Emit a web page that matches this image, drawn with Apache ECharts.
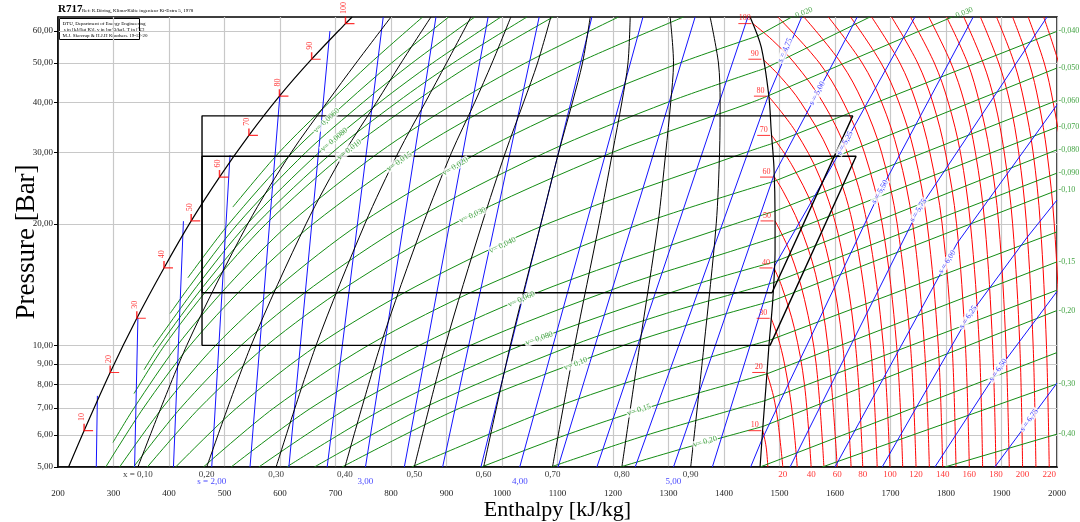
<!DOCTYPE html>
<html>
<head>
<meta charset="utf-8">
<script src="https://cdn.jsdelivr.net/npm/echarts@6/dist/echarts.min.js"></script>
<style>
  html, body { margin: 0; padding: 0; background: #fff; }
  #main { width: 1080px; height: 522px; }
</style>
</head>
<body>
<div id="main"></div>
<script>
const FONT = 'Liberation Serif'
const GREEN = '#148c14'
const BLUE = '#1414ff'
const RED = '#ff0000'

// axis ticks
const yTicks = [5, 6, 7, 8, 9, 10, 20, 30, 40, 50, 60]

// saturation points, T in C, p in bar, h in kJ/kg
const satT = [10, 20, 30, 40, 50, 60, 70, 80, 90, 100]
const satP = [6.15, 8.57, 11.67, 15.55, 20.33, 26.1, 33.1, 41.4, 51.1, 62.6]
const satHf = [247, 294, 342, 391, 440, 491, 544, 599, 657, 718]
const satHg = [1470, 1477, 1485, 1490, 1492, 1491, 1486, 1480, 1470, 1452]

// saturated liquid / vapour lines
const liquidH = [219, 247, 294, 342, 391, 440, 491, 544, 599, 657, 718, 730]
const liquidP = [5, 6.15, 8.57, 11.67, 15.55, 20.33, 26.1, 33.1, 41.4, 51.1, 62.6, 65]
const vapourH = [1465, 1470, 1477.5, 1481, 1488, 1492, 1492, 1490, 1485, 1481, 1467, 1447]
const vapourP = [5, 6.28, 8.55, 10, 13, 17.2, 20.8, 27.6, 34.1, 41.2, 54.8, 65]

// quality lines x = 0.1 .. 0.9
const qualityLabel = ['x = 0,10', '0,20', '0,30', '0,40', '0,50', '0,60', '0,70', '0,80', '0,90']
const qualityP = [5, 10, 20, 30, 40, 50, 65]
const qualityH = [
  [344, 432, 542, 620, 685, 737, 800],
  [468, 548, 647, 716, 774, 818, 872],
  [593, 665, 753, 813, 862, 900, 944],
  [717, 781, 858, 909, 951, 982, 1016],
  [842, 898, 964, 1006, 1039, 1064, 1088],
  [967, 1015, 1070, 1102, 1127, 1145, 1159],
  [1091, 1131, 1175, 1199, 1216, 1227, 1231],
  [1216, 1248, 1281, 1295, 1304, 1309, 1303],
  [1340, 1364, 1386, 1392, 1393, 1390, 1375]
]

// isentropes s [kJ/(kg K)]
const isenS = ['1,25', '1,50', '1,75', '2,00', '2,25', '2,50', '2,75', '3,00', '3,25', '3,50', '3,75', '4,00',
  '4,25', '4,50', '4,75', '5,00', '5,25', '5,50', '5,75', '6,00', '6,25', '6,50', '6,75']
const isenH = [
  [269, 271], [338, 344], [408, 426], [477, 510], [546, 600], [616, 690],
  [685, 786], [754, 881], [824, 975], [893, 1067], [962, 1162], [1032, 1254], [1101, 1348], [1171, 1443],
  [1240, 1479, 1540],
  [1309, 1490, 1568, 1640],
  [1379, 1492, 1618, 1744],
  [1448, 1468, 1681, 1849],
  [1519, 1750, 1982],
  [1600, 1820, 2000],
  [1685, 1840, 1946, 2000],
  [1780, 1894, 2000],
  [1888, 2000]
]
const isenP = [
  [5, 7.5], [5, 11.7], [5, 20.3], [5, 29.6], [5, 42], [5, 60],
  [5, 65], [5, 65], [5, 65], [5, 65], [5, 65], [5, 65], [5, 65], [5, 65],
  [5, 41.2, 65],
  [5, 26.4, 42.1, 65],
  [5, 15.8, 31.7, 65],
  [5, 5.83, 24.0, 65],
  [5, 21.6, 65],
  [5, 17.9, 39.4],
  [5, 11.75, 18.5, 22.9],
  [5, 8.69, 13.6],
  [5, 8.07]
]
const isenLabelS = ['4,75', '5,00', '5,25', '5,50', '5,75', '6,00', '6,25', '6,50', '6,75']
const isenLabelH = [1510, 1568, 1618, 1681, 1750, 1802, 1840, 1894, 1950]
const isenLabelP = [53.8, 42.1, 31.7, 24.0, 21.6, 16.1, 11.75, 8.69, 6.53]
const isenBottomS = ['2,00', '3,00', '4,00', '5,00']

// isotherms T [C]
const isoT = [10, 20, 30, 40, 50, 60, 70, 80, 90, 100, 110, 120, 130, 140, 150, 160, 170, 180, 190, 200, 210, 220, 230, 240, 250]
const superP = [5, 10, 20, 30, 40, 50, 65]
const isoTH = [
  [1479, 1476, 1470],
  [1506, 1497, 1489, 1477],
  [1532, 1522, 1509, 1497, 1485],
  [1557, 1545, 1527, 1504, 1490],
  [1580, 1566, 1545, 1519, 1492],
  [1604, 1587, 1565, 1535, 1507, 1491],
  [1629, 1614, 1590, 1560, 1522, 1486],
  [1650, 1637, 1609, 1573, 1528, 1480],
  [1676, 1664, 1632, 1590, 1538, 1503, 1470],
  [1699, 1687, 1658, 1622, 1578, 1527, 1487, 1452],
  [1722, 1711, 1685, 1653, 1615, 1572, 1497],
  [1746, 1736, 1712, 1684, 1650, 1611, 1544],
  [1770, 1761, 1740, 1714, 1684, 1649, 1588],
  [1794, 1786, 1766, 1743, 1715, 1683, 1628],
  [1818, 1811, 1793, 1771, 1746, 1717, 1666],
  [1842, 1835, 1819, 1799, 1776, 1749, 1702],
  [1866, 1860, 1844, 1826, 1804, 1779, 1736],
  [1890, 1884, 1870, 1853, 1833, 1809, 1769],
  [1914, 1908, 1895, 1879, 1860, 1839, 1801],
  [1938, 1933, 1920, 1905, 1888, 1867, 1832],
  [1962, 1957, 1945, 1931, 1915, 1895, 1862],
  [1986, 1981, 1970, 1957, 1941, 1923, 1891],
  [2010, 2006, 1995, 1982, 1967, 1950, 1920],
  [2034, 2030, 2020, 2008, 1993, 1977, 1948],
  [2058, 2054, 2044, 2033, 2019, 2003, 1976]
]
const isoTP = [
  [5, 5.6, 6.15],
  [5, 6.5, 7.5, 8.57],
  [5, 7, 9, 10.5, 11.67],
  [5, 8, 11, 14, 15.55],
  [5, 9, 13, 17, 20.33],
  [5, 10, 15, 20, 24, 26.1],
  [5, 10, 16, 22, 28, 33.1],
  [5, 10, 18, 26, 34, 41.4],
  [5, 10, 20, 30, 40, 46, 51.1],
  [5, 10, 20, 30, 40, 50, 57, 62.6]
]

// isochores v [m3/kg]: two-phase part (last point on vapour line) + superheated end
const isoV = ['0,0050', '0,0060', '0,0070', '0,0080', '0,0090', '0,010', '0,0125', '0,015',
  '0,020', '0,025', '0,030', '0,040', '0,050', '0,060', '0,070', '0,080', '0,090', '0,10',
  '0,125', '0,15', '0,175', '0,20', '0,25', '0,30', '0,40']
const isoVH = [
  [515, 598, 689, 763, 857],
  [434, 508, 622, 720, 801, 904],
  [402, 437, 524, 646, 750, 838, 951],
  [371, 450, 541, 670, 780, 875, 998],
  [355, 383, 462, 558, 694, 811, 912, 1045],
  [337, 392, 474, 575, 718, 842, 949, 1092],
  [299, 337, 415, 505, 617, 778, 918, 1042, 1210],
  [286, 354, 438, 536, 660, 838, 994, 1135, 1327],
  [311, 388, 484, 598, 744, 958, 1146, 1320, 1460],
  [336, 421, 530, 660, 829, 1078, 1299, 1474],
  [361, 455, 576, 721, 913, 1198, 1451, 1480],
  [412, 522, 667, 845, 1082, 1438, 1487],
  [462, 589, 759, 968, 1251, 1491],
  [512, 656, 851, 1092, 1420, 1492],
  [562, 723, 943, 1215, 1407, 1492],
  [612, 790, 1035, 1338, 1491],
  [662, 858, 1127, 1296, 1489],
  [712, 925, 1219, 1359, 1488],
  [837, 1093, 1274, 1482],
  [963, 1115, 1261, 1477],
  [1088, 1261, 1474],
  [1213, 1335, 1470],
  [1465],
  [1577],
  [1798]
]
const isoVP = [
  [22, 30, 40, 50, 65],
  [14.7, 20, 30, 40, 50, 65],
  [12, 14, 20, 30, 40, 50, 65],
  [9.9, 14, 20, 30, 40, 50, 65],
  [8.7, 10, 14, 20, 30, 40, 50, 65],
  [7.6, 10, 14, 20, 30, 40, 50, 65],
  [5.75, 7, 10, 14, 20, 30, 40, 50, 65],
  [5, 7, 10, 14, 20, 30, 40, 50, 65],
  [5, 7, 10, 14, 20, 30, 40, 50, 58.3],
  [5, 7, 10, 14, 20, 30, 40, 48.5],
  [5, 7, 10, 14, 20, 30, 40, 41.5],
  [5, 7, 10, 14, 20, 30, 31.6],
  [5, 7, 10, 14, 20, 25.5],
  [5, 7, 10, 14, 20, 21.5],
  [5, 7, 10, 14, 17, 18.5],
  [5, 7, 10, 14, 16.1],
  [5, 7, 10, 12, 14.3],
  [5, 7, 10, 11.5, 12.9],
  [5, 7, 8.5, 10.3],
  [5, 6, 7, 8.5],
  [5, 6, 7.3],
  [5, 5.6, 6.3],
  [5], [5], [5]
]
const isoVEndH = [null, null, null, null, null, null, null, null,
  1522, 1663, 1811, 2000, 2000, 2000, 2000, 2000, 2000, 2000, 2000, 2000, 2000, 2000, 2000, 2000, 2000]
const isoVEndP = [null, null, null, null, null, null, null, null,
  65, 65, 65, 59.9, 48.6, 40.4, 34.7, 30.5, 26.7, 24.2, 19.1, 16.1, 13.7, 12.2, 9.6, 8.03, 6.03]
const edgeLabelV = ['0,020', '0,030', '0,040', '0,050', '0,060', '0,070', '0,080', '0,090', '0,10', '0,15', '0,20', '0,30', '0,40']
const domeLabelV = ['0,0060', '0,0080', '0,010', '0,015', '0,020', '0,030', '0,040', '0,060', '0,080', '0,10', '0,15', '0,20']
const domeLabelH = [684, 698, 725, 815, 916, 947, 1001, 1035, 1067, 1133, 1247, 1366]
const domeLabelP = [36, 32.3, 30.5, 28.5, 27.7, 21.0, 17.7, 13.0, 10.4, 9.0, 6.92, 5.77]

// two refrigeration cycles
const cycleHighP = [37.0, 29.4]
const cycleLowP = [13.5, 10.0]
const cycleValveH = [459.5, 459.5]
const cycleDischargeH = [1632, 1638]
const cycleSuctionH = [1486.5, 1483]

// label styles (not data)
const isenLabelRotate = [66, 62, 61, 60, 58, 57, 56, 55, 54]
const domeLabelRotate = [43, 40, 37, 35, 31, 24, 25, 24, 19, 21, 18, 16]

const zip = (hs, ps) => hs.map((h, i) => [h, ps[i]])
const series = []

function addLine(data, color, width, smooth, z) {
  series.push({
    type: 'line', data, symbol: 'none', smooth: smooth || false, silent: true,
    lineStyle: { color, width }, z: z || 2, emphasis: { disabled: true }
  })
}

function addLabels(items, label, z) {
  series.push({
    type: 'scatter', symbolSize: 1, silent: true, z: z || 6,
    itemStyle: { color: 'rgba(0,0,0,0)' },
    data: items.map(it => ({ value: [it.h, it.p], name: it.text, label: it.label || {} })),
    label: Object.assign({ show: true, formatter: p => p.name, fontFamily: FONT }, label)
  })
}

// isotherms
isoT.forEach((t, i) => {
  const ps = i < isoTP.length ? isoTP[i] : superP
  addLine(zip(isoTH[i], ps), RED, 1, 0.35, 2)
})

// isochores
isoV.forEach((v, i) => {
  const pts = zip(isoVH[i], isoVP[i])
  if (pts.length > 1) addLine(pts, GREEN, 1, 0.3, 3)
  if (isoVEndH[i] !== null) addLine([pts[pts.length - 1], [isoVEndH[i], isoVEndP[i]]], GREEN, 1, false, 3)
})

// isentropes
isenS.forEach((s, i) => addLine(zip(isenH[i], isenP[i]), BLUE, 1, false, 4))

// quality lines and saturation dome
qualityH.forEach(hs => addLine(zip(hs, qualityP), '#000', 1, 0.3, 5))
addLine(zip(liquidH, liquidP), '#000', 1.2, 0.3, 5)
addLine(zip(vapourH, vapourP), '#000', 1.2, 0.3, 5)

// cycles
cycleHighP.forEach((ph, i) => {
  addLine([
    [cycleValveH[i], cycleLowP[i]], [cycleValveH[i], ph], [cycleDischargeH[i], ph],
    [cycleSuctionH[i], cycleLowP[i]], [cycleValveH[i], cycleLowP[i]]
  ], '#000', 1.4, false, 5)
})

// temperature markers on liquid line
series.push({
  type: 'scatter', silent: true, z: 7,
  symbol: 'path://M0,0L0,8L10,8', symbolSize: [9, 7], symbolOffset: [4.5, -3.5],
  itemStyle: { color: 'rgba(0,0,0,0)', borderColor: RED, borderWidth: 1.3 },
  data: satT.map((t, i) => ({ value: [satHf[i], satP[i]], name: String(t) })),
  label: {
    show: true, formatter: p => p.name, position: [3, -2], rotate: 90,
    align: 'left', verticalAlign: 'bottom',
    color: RED, fontSize: 8, fontFamily: FONT
  }
})

// underlined temperature labels on vapour line
series.push({
  type: 'scatter', silent: true, z: 7, symbol: 'rect', symbolSize: [13, 1], symbolOffset: [-8, 0],
  itemStyle: { color: RED },
  data: satT.map((t, i) => ({ value: [satHg[i], satP[i]], name: String(t) })),
  label: { show: true, formatter: p => p.name, position: 'top', distance: 1, color: RED, fontSize: 8, fontFamily: FONT }
})

// bottom labels: quality, temperature, entropy
addLabels(qualityLabel.map((t, i) => ({ h: qualityH[i][0], p: 5, text: t })),
  { position: 'bottom', distance: 3, color: '#000', fontSize: 9 })
addLabels(isoT.filter(t => t % 20 === 0 && t <= 220).map(t => ({ h: isoTH[isoT.indexOf(t)][0], p: 5, text: String(t) })),
  { position: 'bottom', distance: 3, color: RED, fontSize: 9 })
addLabels(isenBottomS.map((s, i) => ({ h: isenH[isenS.indexOf(s)][0], p: 5, text: (i === 0 ? 's = ' : '') + s })),
  { position: 'bottom', distance: 10, color: BLUE, fontSize: 9 })

// isentrope labels in superheated region
addLabels(isenLabelS.map((s, i) => ({ h: isenLabelH[i], p: isenLabelP[i], text: 's = ' + s, label: { rotate: isenLabelRotate[i] } })),
  { position: 'inside', color: BLUE, fontSize: 8, backgroundColor: '#fff', padding: [0, 1] }, 8)

// isochore labels inside the dome
addLabels(domeLabelV.map((v, i) => ({ h: domeLabelH[i], p: domeLabelP[i], text: 'v= ' + v, label: { rotate: domeLabelRotate[i] } })),
  { position: 'inside', color: GREEN, fontSize: 8, backgroundColor: '#fff', padding: [0, 1] }, 8)

// isochore labels at right and top edges
addLabels(edgeLabelV.map(v => {
  const i = isoV.indexOf(v)
  const top = isoVEndP[i] === 65
  return { h: isoVEndH[i], p: isoVEndP[i], text: '-' + v, label: top ? { rotate: 22 } : {} }
}), { position: 'right', distance: 1, color: GREEN, fontSize: 8 }, 8)

const chart = echarts.init(document.getElementById('main'))
chart.setOption({
  animation: false,
  backgroundColor: '#fff',
  grid: {
    left: 58, right: 23, top: 17, bottom: 55, outerBoundsMode: 'none', containLabel: false,
    show: true, borderColor: '#000', borderWidth: 1.5, backgroundColor: 'transparent'
  },
  xAxis: {
    type: 'value', min: 200, max: 2000, interval: 100,
    axisLine: { show: true, onZero: false, lineStyle: { color: '#000', width: 1.5 } },
    axisTick: { show: false },
    axisLabel: { margin: 22, fontFamily: FONT, fontSize: 9, color: '#222', formatter: v => String(v) },
    splitLine: { show: true, lineStyle: { color: '#c8c8c8', width: 1.2 } },
    name: 'Enthalpy [kJ/kg]', nameLocation: 'middle', nameGap: 32, nameMoveOverlap: false,
    nameTextStyle: { fontFamily: FONT, fontSize: 22, color: '#000' }
  },
  yAxis: {
    type: 'log', logBase: 10, min: 5, max: 65,
    axisLine: { show: true, lineStyle: { color: '#000', width: 1.5 } },
    axisTick: { show: true, customValues: yTicks, length: 4, lineStyle: { color: '#000' } },
    axisLabel: {
      customValues: yTicks, margin: 5, fontFamily: FONT, fontSize: 9, color: '#222',
      formatter: v => Number(v).toFixed(2).replace('.', ',')
    },
    splitLine: { show: true, lineStyle: { color: '#c8c8c8', width: 1.2 } },
    name: 'Pressure [Bar]', nameLocation: 'middle', nameGap: 18, nameMoveOverlap: false,
    nameTextStyle: { fontFamily: FONT, fontSize: 27, color: '#000' }
  },
  graphic: [
    { type: 'text', left: 58, top: 4, style: { text: 'R717', font: 'bold 11px "Liberation Serif"', fill: '#000' } },
    { type: 'text', left: 82, top: 8, style: { text: 'Ref: R.Döring, Klima-Kälte ingenieur Ki-Extra 5, 1978', font: '5px "Liberation Serif"', fill: '#000' } },
    {
      type: 'group', left: 59, top: 18, children: [
        { type: 'rect', shape: { x: 0, y: 0, width: 80, height: 21 }, style: { fill: '#fff', stroke: '#000', lineWidth: 1 } },
        {
          type: 'text', x: 3, y: 2, style: {
            text: 'DTU, Department of Energy Engineering\n s in [kJ/(kg K)]. v in [m^3/kg]. T in [ºC]\nM.J. Skovrup & H.J.H Knudsen. 19-12-20',
            font: '5px "Liberation Serif"', lineHeight: 6.2, fill: '#000'
          }
        }
      ]
    }
  ],
  series
})
</script>
</body>
</html>
